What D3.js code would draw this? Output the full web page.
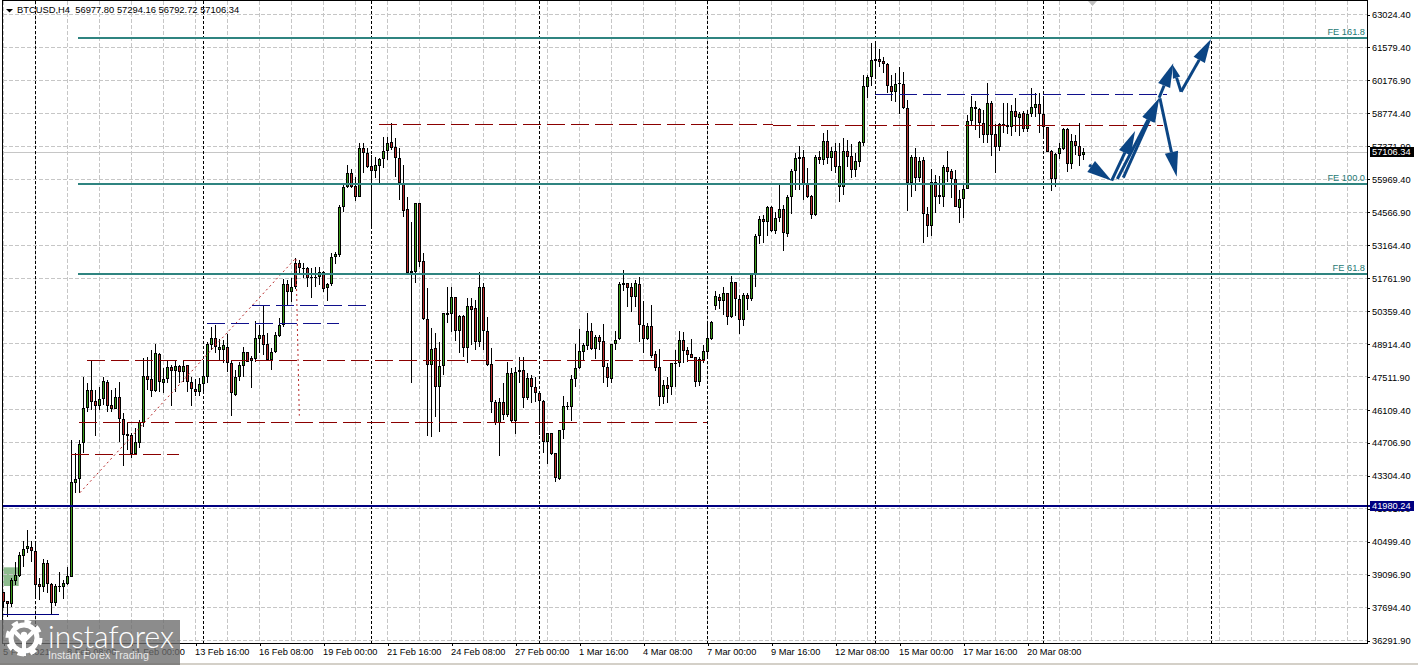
<!DOCTYPE html>
<html><head><meta charset="utf-8">
<script src="https://cdn.jsdelivr.net/npm/d3@7"></script>
<style>
html,body{margin:0;padding:0;background:#fff}
svg{display:block}
text{font-family:"Liberation Sans",Arial,sans-serif;font-size:9.25px}
</style></head><body><svg id="c" width="1418" height="665"></svg>
<script>
const title = "BTCUSD,H4  56977.80 57294.16 56792.72 57106.34";
const priceTicks = ["63024.40","61579.40","60176.90","58774.40","57371.90","55969.40","54566.90","53164.40","51761.90","50359.40","48914.40","47511.90","46109.40","44706.90","43304.40","41901.90","40499.40","39096.90","37694.40","36291.90"];
const dateBars = [0,16,32,48,64,80,96,112,128,144,160,176,192,208,224,240,256];
const dateLabels = ["5 Feb 2021","8 Feb 08:00","11 Feb 00:00","13 Feb 16:00","16 Feb 08:00","19 Feb 00:00","21 Feb 16:00","24 Feb 08:00","27 Feb 00:00","1 Mar 16:00","4 Mar 08:00","7 Mar 00:00","9 Mar 16:00","12 Mar 08:00","15 Mar 00:00","17 Mar 16:00","20 Mar 08:00"];
const gridBars = d3.range(0,340,8);
const weekBars = [8,50,92,134,176,218,260,302];

const opens = [38305,37935,37806,38804,39003,39872,40143,40228,40071,38647,
38547,39544,38647,37835,38547,38547,38661,38974,42991,43133,
44672,46167,46936,46466,46281,46552,47307,46295,46153,46637,
45697,45056,45014,44216,44672,45526,47535,47406,46922,48475,
47264,47406,47919,47777,47976,47734,48019,47278,47008,46879,
47193,47520,48873,49158,48659,48659,48802,48089,46736,47520,
47990,48559,48303,48275,49143,49286,48901,48232,48559,49272,
49713,51479,51152,52362,52362,52120,52149,51764,51764,51793,
52006,51294,51465,52620,52734,54756,55611,56209,55668,55212,
57277,57063,56522,56323,56536,56807,57149,57533,57320,56878,
55810,54671,51936,52007,54927,52477,49970,48019,48731,47093,
47976,50169,50198,50910,49486,50112,48731,50526,50440,49016,
51337,49486,48047,46423,45526,46423,45882,47663,45640,47734,
47791,46609,47449,47065,46837,46480,44743,45099,44244,43148,
45227,46224,46238,47406,47876,48589,48831,49457,48688,49201,
49030,47919,47421,48902,49115,51451,51508,51337,50939,51480,
49714,49115,49685,48475,47919,46666,47150,47065,48090,48090,
49073,48645,48475,48346,47307,48232,48589,49130,50554,50939,
50768,51081,50084,51551,50839,49941,50995,50825,51893,53517,
54257,54115,54770,53759,54286,54670,53616,55183,56294,56892,
56892,55753,55240,54428,56892,56778,57576,56864,57148,55639,
55639,57148,56949,56351,56707,57519,59912,60310,61023,61080,
60994,60880,59954,59698,60011,60026,58986,55781,56892,55995,
56778,54457,53972,55852,55268,55212,56479,56294,55952,54742,
55098,55525,58459,59029,58943,58373,57832,59200,57875,57348,
58317,58274,58203,58872,58587,58772,58103,58744,59014,59157,
58744,58174,57163,55981,57020,57248,58103,56593,57576,57362,56977.80];

const highs = [38305,37935,38903,39615,40043,40513,40968,40498,40498,38903,
39729,39687,38690,38647,39160,38832,39402,44814,44244,44814,
47520,47264,48204,46951,47093,47520,47378,46951,47022,47307,
45982,45526,45099,45313,45669,48332,48375,48660,48916,48517,
47876,48204,48019,48204,48019,48232,48019,47492,47406,47449,
48232,49016,49628,49727,49115,49086,49343,48232,47805,48161,
48802,48588,48403,49912,49727,50582,49371,48730,49443,50012,
51679,51650,51721,52576,52505,52391,52191,52149,52220,52191,
52049,51508,52790,52862,54856,55710,56565,56380,56066,57491,
57491,57277,56992,56921,56878,57776,57776,58345,57704,57277,
56565,55212,54144,54927,54956,52819,51295,49585,49372,49016,
50255,51337,51337,50939,50155,50155,50867,50867,50796,52007,
51508,50055,48731,46523,46594,47235,48161,47876,47947,48346,
48346,47663,47591,47520,46922,46523,45099,45099,44273,45241,
46694,46452,47591,48916,49543,48944,50226,49799,49301,49301,
49756,48090,48902,49471,51580,52078,51508,51508,51651,51765,
50753,49799,50582,48617,48702,47378,47520,48118,48660,49471,
49443,48802,49115,48346,48346,48873,49799,49913,51195,51052,
51337,51081,51822,51579,51010,51081,51081,51936,53602,54385,
54428,54813,54813,54570,55710,54855,55283,56379,57091,57376,
57205,56422,55283,56992,57177,57918,58060,57319,57490,57490,
57704,57633,57462,57063,57590,60410,60410,61763,61763,61507,
61165,60937,60410,60481,60766,60553,59342,56992,57277,56921,
56921,54784,56394,56137,56095,56565,57177,56379,56351,55497,
55810,58701,59513,59299,58986,58915,60083,59299,58302,58345,
59200,59200,59128,59442,58843,58886,58915,59841,59627,59627,
59413,58203,57206,57091,57490,58160,58131,57889,57846,58373,57294.16];

const lows = [37650,37265,37693,38618,38974,39402,39971,39615,38120,37977,
38305,38262,37379,37735,38333,38006,38618,38974,42564,42564,
44273,45996,46096,44985,46096,46310,45996,46025,46139,44743,
43703,44387,44031,44173,44458,45384,46951,46637,46879,46879,
46808,47235,46281,46879,47235,47307,46879,46281,46708,46708,
46879,47264,48659,48517,48232,48089,47733,45853,46708,47349,
47520,48161,47050,48161,48545,48445,48189,47805,48517,49229,
49656,50539,50696,51251,51935,51721,51365,50895,51337,51436,
51152,50753,51394,52350,52648,54571,55568,55568,55041,55183,
56209,56422,53930,55995,55782,56422,56779,57206,56066,55069,
54357,51936,47264,51509,52221,49942,44999,44956,45811,45170,
47591,49828,49415,49058,48517,48346,48090,48873,48660,48802,
48660,47976,45953,45455,44145,45669,45811,45526,45070,47235,
46196,46523,46381,46452,45028,44244,43789,44173,43034,43105,
44842,46096,45640,47093,47834,48204,48660,48660,48261,48660,
47235,47065,47235,48660,49087,51195,50511,50298,50511,49016,
48546,49087,48304,47777,46281,46352,46409,46737,47093,47948,
48118,48161,48304,47093,47136,48090,48403,49087,50369,50397,
50155,49728,50013,50112,49343,49699,50369,50768,51366,53203,
53246,53531,53716,53602,54143,52904,53502,54471,55496,55496,
55069,55140,54243,54385,56593,56565,56607,56322,56208,55000,
55283,56493,55995,56038,56493,57376,59442,59940,60268,60766,
60481,59627,59299,59271,58730,58943,54613,55198,55468,55852,
53217,53502,53531,54528,54898,54784,55852,55140,54756,54101,
54286,55525,58274,58060,57704,57519,57491,56949,56237,57177,
57918,57889,57804,57989,57804,57989,57989,58601,58630,57918,
57804,57134,55468,55610,56807,57206,56280,56379,56992,56522,56792.72];

const closes = [37906,37821,38832,39046,39900,40157,40270,40086,38618,38547,
39544,38661,37849,38576,38576,38690,38989,43005,43133,44629,
46167,46936,46452,46281,46552,47349,46281,46153,46637,45697,
45042,44999,44202,44714,45569,47535,47378,46922,48517,47307,
47406,47919,47777,47976,47705,47976,47278,47008,46879,47193,
47549,48902,49158,48773,48773,48859,48089,46808,47520,48004,
48559,48161,48189,49158,49286,48873,48232,48559,49286,49713,
51479,51123,51337,51365,52149,52149,51721,51721,51793,52006,
51266,51465,52619,52762,54756,55611,56209,55639,55212,57277,
57063,56494,56323,56551,56821,57149,57505,57306,56878,55810,
54614,51936,52021,54927,52434,49985,48019,48702,47093,47962,
50226,50226,50910,49486,50112,48759,50526,50369,49016,51337,
49471,48033,46452,45526,46423,45882,47663,45640,47734,47791,
46609,47449,47065,46837,46495,44743,45099,44216,43176,45227,
46267,46267,47406,47876,48617,48859,49457,48688,49201,49016,
47919,47449,48902,49087,51480,51508,51323,50939,51508,49714,
49115,49685,48403,47905,46666,47150,47007,48090,48118,49073,
48617,48460,48318,47307,48261,48617,49158,49870,50967,50768,
51081,50084,51551,50839,49941,50995,50825,51893,53517,54257,
54115,54770,53759,54286,54670,53645,55183,56294,56849,56835,
55753,55211,54428,56892,56792,57576,56878,57148,56493,56522,
57148,56921,56351,56735,57533,59940,60310,61051,61094,60980,
60866,59954,59698,60026,60054,58986,55781,56892,55995,56735,
54457,53972,55852,55212,55212,56493,56280,55952,54756,55098,
55525,58430,59029,58943,58373,57832,59200,57846,57348,58302,
58260,58203,58872,58630,58744,58103,58744,59029,59157,58730,
58174,57134,55981,57035,57277,58103,56593,57576,57362,56964,57106.34];

// [price, startBar, endBar]
const redLevels = [[44203,16.9,43.9],[45570,18.9,175.9],[48219,20.9,175.4],[58304,93.9,192.4],[58252,192.4,289.9]];
const blueLevels = [[50570,62.1,90.6],[49792,50.9,83.9],[59585,217.9,290.9]];
const blueSolid = [37366,-0.1,13.9];
const feLevels = [[62004,"FE 161.8"],[55766,"FE 100.0"],[51920,"FE 61.8"]];
const feStartBar = 18.6, chartEndBar = 340.9;
const supportPrice = 41980.24, lastPrice = 57106.34;
const fiboPath = [[19.1,42562],[73.1,52591],[73.95,45852]];
const zoneBox = [-0.1,3.8,39374,38575];
// [fromBar, fromPrice, toBar, toPrice, headLength]
const arrows = [[271.4,56565,277.05,55894,25],[277.05,55894,282.9,58017,24],[278.45,55966,288.9,59415,24],[279.95,56022,288.9,59415,24],
[288.9,59440,292.45,60910,24],[294.4,59697,292.2,60867,14],[294.4,59697,301.9,61948,24],[289.1,59415,293.3,56065,25]];

const x = d3.scaleLinear().domain([0,270]).range([3.5,1083.5]);
const y = d3.scaleLinear().domain([35200,63615]).range([665,0]);
const tickY = d3.scalePoint().domain(priceTicks).range([14.5,640.5]);

const L=3, R=1367, T=1, B=643;
const GRID="#c6c6c6", RED="#8b0000", NAVY="#000080", LEVELBLUE="#10108c", TEAL="#2f8480", TEALTEXT="#1f7a74", ARROW="#0b4584", GREEN="#3a9a1a", DRED="#b82a2a";
const svg = d3.select("#c");
svg.append("rect").attr("width",1418).attr("height",665).attr("fill","#fff");
svg.append("rect").attr("y",663).attr("width",1418).attr("height",2).attr("fill","#d4d0c8");

// zone
svg.append("rect").attr("x",x(zoneBox[0])).attr("width",x(zoneBox[1])-x(zoneBox[0]))
  .attr("y",y(zoneBox[2])).attr("height",y(zoneBox[3])-y(zoneBox[2])).attr("fill","#8fbc8f");

// grid
const grid = svg.append("g").attr("shape-rendering","crispEdges").attr("stroke",GRID).attr("stroke-dasharray","4,2");
grid.selectAll(".h").data(priceTicks).join("line").attr("x1",L).attr("x2",R).attr("y1",d=>tickY(d)).attr("y2",d=>tickY(d));
grid.selectAll(".v").data(gridBars).join("line").attr("x1",d=>x(d)).attr("x2",d=>x(d)).attr("y1",T).attr("y2",B);
svg.append("line").attr("x1",L).attr("x2",R).attr("y1",y(lastPrice)).attr("y2",y(lastPrice)).attr("stroke",GRID).attr("shape-rendering","crispEdges");
svg.append("g").attr("shape-rendering","crispEdges").attr("stroke","#000").attr("stroke-dasharray","3,2")
  .selectAll("line").data(weekBars).join("line").attr("x1",d=>x(d)).attr("x2",d=>x(d)).attr("y1",T).attr("y2",B);

// candles
const bars = svg.append("g").attr("shape-rendering","crispEdges");
const idx = d3.range(closes.length);
bars.selectAll(".w").data(idx).join("line").attr("x1",i=>x(i)).attr("x2",i=>x(i))
  .attr("y1",i=>Math.round(y(highs[i]))).attr("y2",i=>Math.round(y(lows[i]))).attr("stroke","#000");
const bt = i=>Math.round(y(Math.max(opens[i],closes[i]))), bb = i=>Math.round(y(Math.min(opens[i],closes[i])));
bars.selectAll(".b").data(idx).join("rect").attr("x",i=>x(i)-1.5).attr("width",3)
  .attr("y",bt).attr("height",i=>Math.max(1,bb(i)-bt(i))).attr("fill","#000");
bars.selectAll(".f").data(idx.filter(i=>bb(i)-bt(i)>2)).join("rect").attr("x",i=>x(i)-0.5).attr("width",1)
  .attr("y",i=>bt(i)+1).attr("height",i=>bb(i)-bt(i)-2).attr("fill",i=>closes[i]>=opens[i]?GREEN:DRED);

// dotted fibo
svg.append("path").attr("d",d3.line().x(d=>x(d[0])).y(d=>y(d[1]))(fiboPath)).attr("fill","none").attr("stroke",DRED).attr("stroke-dasharray","2,3");

// levels
const lv = svg.append("g").attr("shape-rendering","crispEdges");
lv.selectAll(".r").data(redLevels).join("line").attr("x1",d=>x(d[1])).attr("x2",d=>x(d[2])).attr("y1",d=>y(d[0])).attr("y2",d=>y(d[0])).attr("stroke",RED).attr("stroke-dasharray","18,6");
lv.selectAll(".n").data(blueLevels).join("line").attr("x1",d=>x(d[1])).attr("x2",d=>x(d[2])).attr("y1",d=>y(d[0])).attr("y2",d=>y(d[0])).attr("stroke",LEVELBLUE).attr("stroke-dasharray","18,6");
lv.append("line").attr("x1",x(blueSolid[1])).attr("x2",x(blueSolid[2])).attr("y1",y(blueSolid[0])).attr("y2",y(blueSolid[0])).attr("stroke",NAVY);
lv.selectAll(".fe").data(feLevels).join("line").attr("x1",x(feStartBar)).attr("x2",x(chartEndBar)).attr("y1",d=>y(d[0])).attr("y2",d=>y(d[0])).attr("stroke",TEAL).attr("stroke-width",2);
lv.append("line").attr("x1",L).attr("x2",1370).attr("y1",y(supportPrice)).attr("y2",y(supportPrice)).attr("stroke",NAVY).attr("stroke-width",2);
svg.selectAll(".fet").data(feLevels).join("text").attr("x",1365).attr("y",d=>y(d[0])-3).attr("text-anchor","end").attr("fill",TEALTEXT).text(d=>d[1]);

// arrows
const ag = svg.append("g");
arrows.forEach(a=>{
  const x0=x(a[0]),y0=y(a[1]),x1=x(a[2]),y1=y(a[3]),hl=a[4];
  const len=Math.hypot(x1-x0,y1-y0),ux=(x1-x0)/len,uy=(y1-y0)/len,bx=x1-ux*hl,by=y1-uy*hl,hw=hl*0.27;
  ag.append("line").attr("x1",x0).attr("y1",y0).attr("x2",bx).attr("y2",by).attr("stroke",ARROW).attr("stroke-width",3);
  ag.append("path").attr("d",`M${x1},${y1}L${bx-uy*hw},${by+ux*hw}L${bx+uy*hw},${by-ux*hw}Z`).attr("fill",ARROW);
});

// frame + axes
const yAxis = d3.axisRight(tickY).tickSize(3).tickPadding(2);
const ya = svg.append("g").attr("transform",`translate(${R},0)`).call(yAxis);
ya.select(".domain").remove();
ya.selectAll("text").attr("fill","#000").attr("dy","0.34em");
ya.selectAll("line").attr("stroke","#000").attr("shape-rendering","crispEdges");
const xAxis = d3.axisBottom(x).tickValues(dateBars).tickFormat((d,i)=>dateLabels[i]).tickSize(3).tickPadding(2);
const xa = svg.append("g").attr("transform",`translate(0,${B})`).call(xAxis);
xa.select(".domain").remove();
xa.selectAll("line").attr("stroke","#000").attr("shape-rendering","crispEdges");
xa.selectAll("text").attr("text-anchor","start").attr("dx",-1).attr("y",4).attr("dy","0.9em").attr("fill","#000");
svg.append("path").attr("d",`M${L-0.5},${T-0.5}H${R+0.5}V${B+0.5}H${L-0.5}Z`).attr("fill","none").attr("stroke","#000").attr("shape-rendering","crispEdges");

// price boxes
[[lastPrice,"#000"],[supportPrice,NAVY]].forEach(([p,c])=>{
  const yy=y(p);
  svg.append("rect").attr("x",1370).attr("width",44).attr("y",Math.round(yy)-4.5-0.5).attr("height",10).attr("fill",c);
  svg.append("text").attr("x",1372).attr("y",yy+0.34*9.2).attr("fill","#fff").text(d3.format(".2f")(p));
});

// title
svg.append("path").attr("d","M6,9H13L9.5,12.5Z").attr("fill","#000");
svg.append("text").attr("x",17).attr("y",12.5).attr("fill","#000").style("white-space","pre").style("font-size","9.37px").text(title);
// scroll marker
svg.append("path").attr("d","M1088,1H1097L1092.5,6Z").attr("fill","#c0c0c0");

// watermark
const wm = svg.append("g");
wm.append("rect").attr("x",0).attr("y",620).attr("width",180).attr("height",45).attr("fill","#6c6c6c").attr("opacity",0.78);
const gx=24,gy=638;
wm.append("circle").attr("cx",gx).attr("cy",gy).attr("r",13).attr("fill","none").attr("stroke","#fff").attr("stroke-width",5);
wm.append("circle").attr("cx",gx).attr("cy",gy).attr("r",16.5).attr("fill","none").attr("stroke","#fff").attr("stroke-width",4).attr("stroke-dasharray","6.5,6.45");
wm.append("circle").attr("cx",gx).attr("cy",gy-3).attr("r",3.2).attr("fill","#fff");
wm.append("path").attr("d",`M${gx-9},${gy-6}L${gx},${gy+3}L${gx+9},${gy-6}M${gx},${gy+3}V${gy+18}`).attr("fill","none").attr("stroke","#fff").attr("stroke-width",4);
wm.append("text").attr("x",48).attr("y",648).attr("fill","#fff").style("font-family","Lato").style("font-weight",300).style("font-size","32px")
  .attr("textLength",126).attr("lengthAdjust","spacingAndGlyphs").text("instaforex");
wm.append("text").attr("x",48).attr("y",659).attr("fill","#fff").attr("opacity",0.8).style("font-size","11.5px")
  .attr("textLength",101).attr("lengthAdjust","spacingAndGlyphs").text("Instant Forex Trading");
</script></body></html>
